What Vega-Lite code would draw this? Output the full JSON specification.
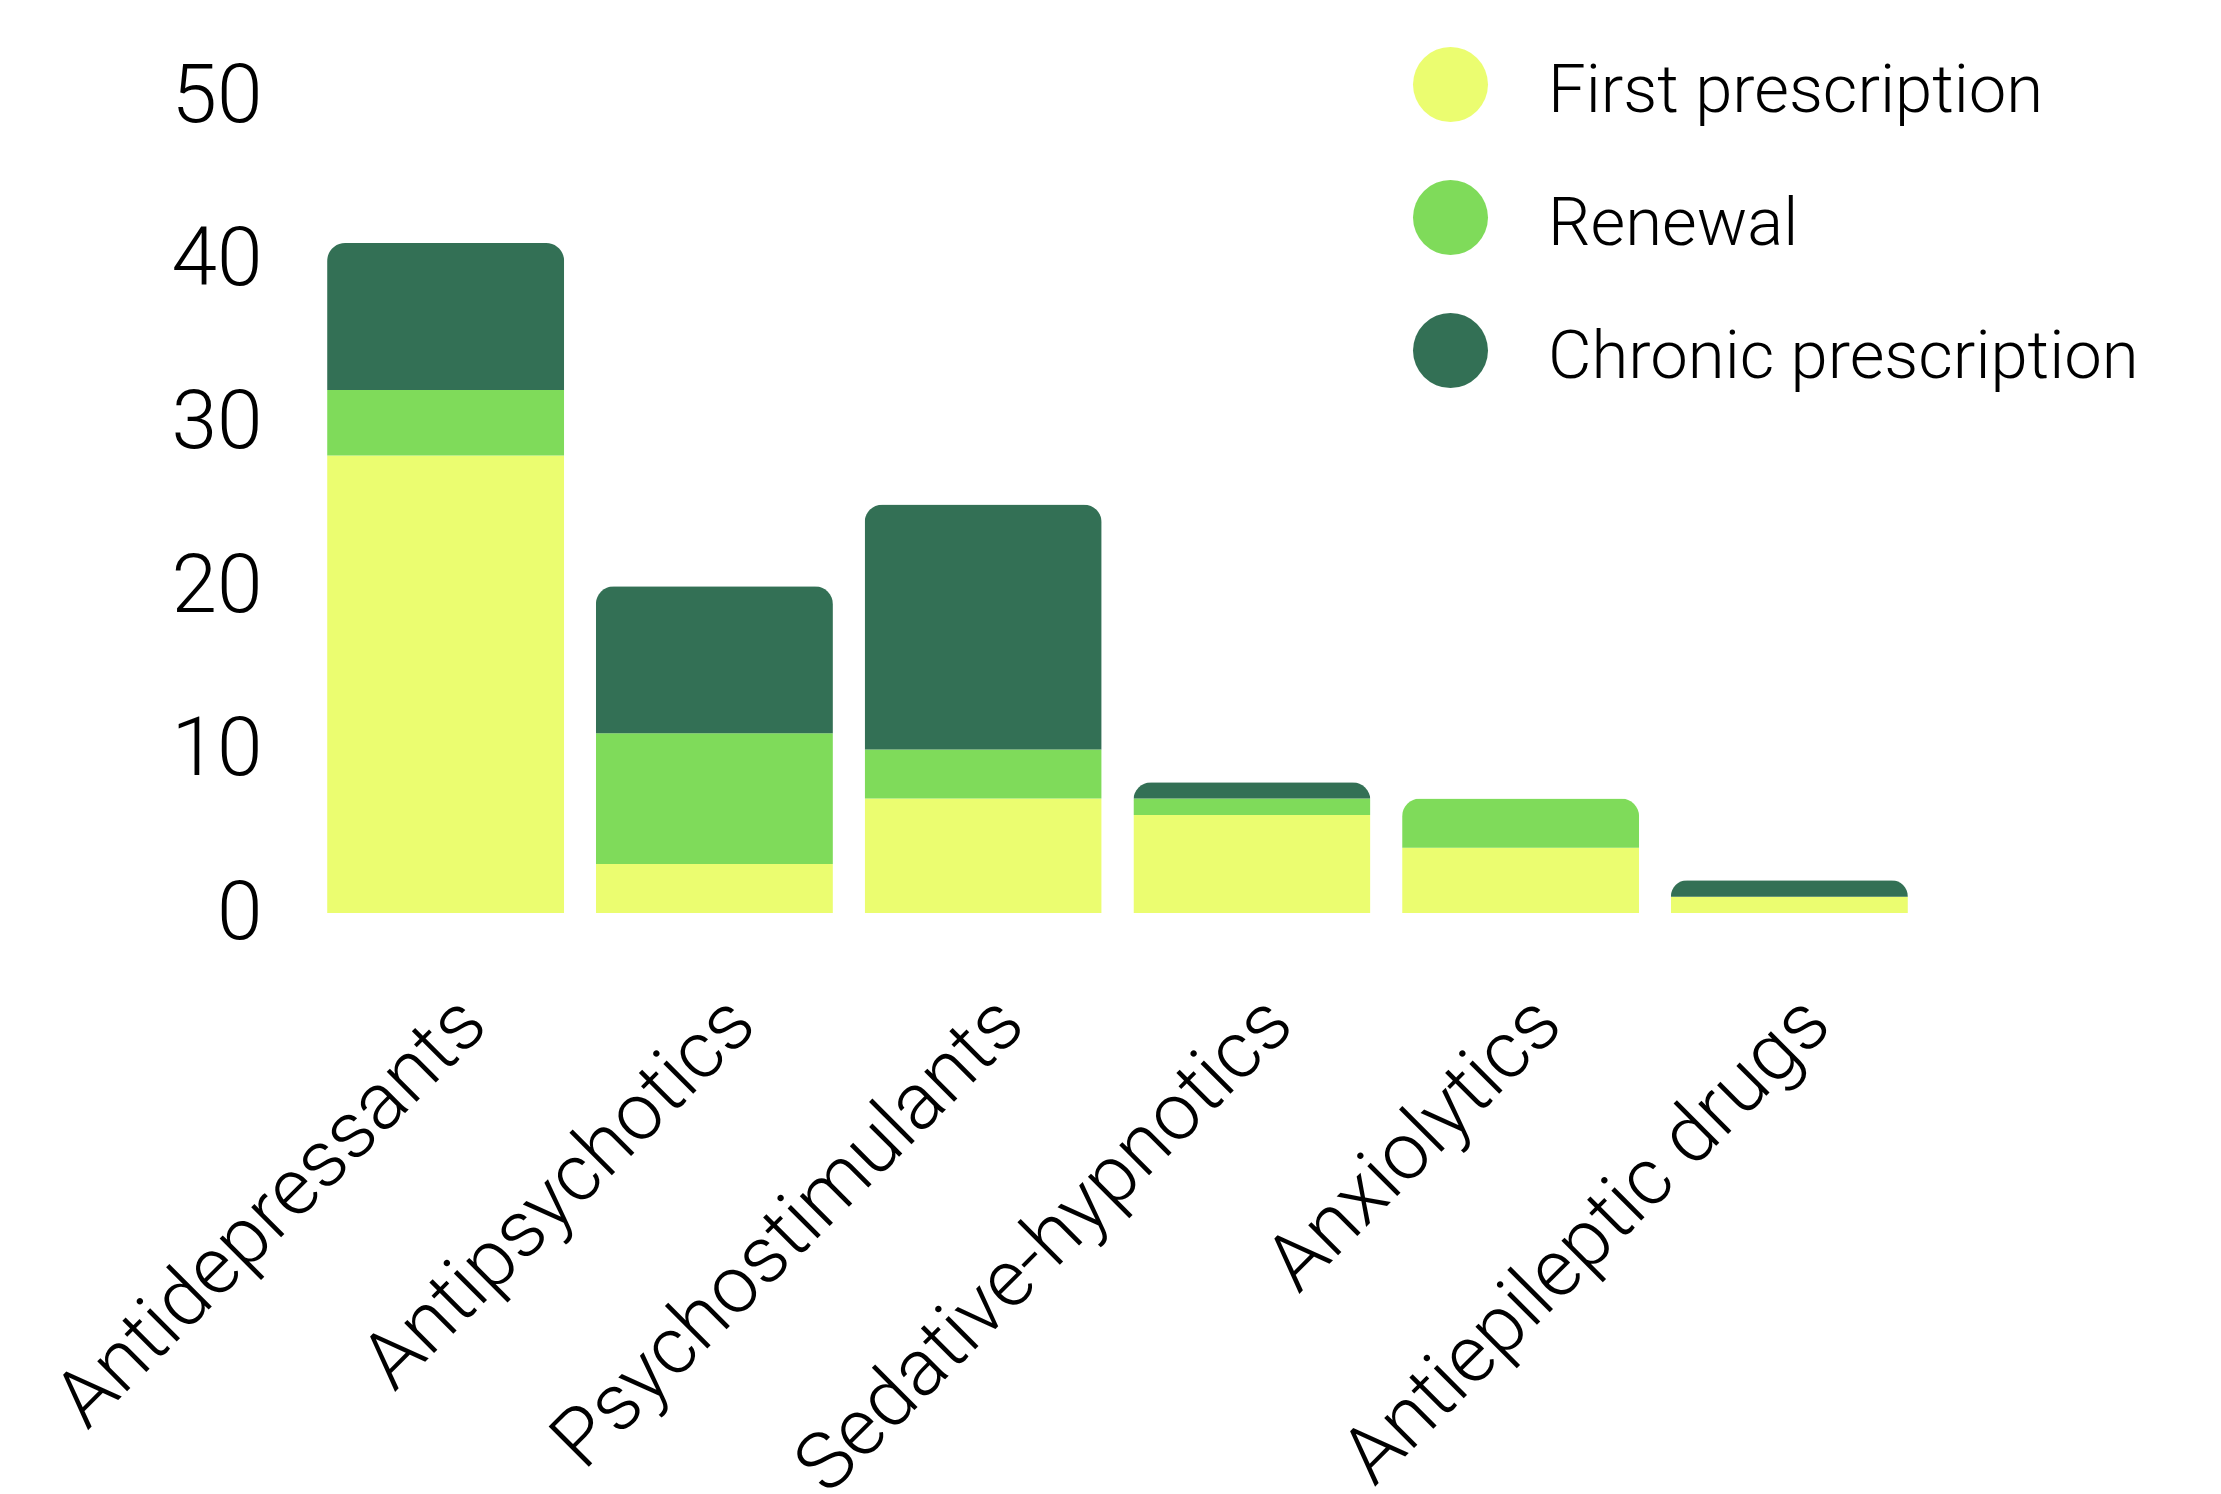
{
  "$schema": "https://vega.github.io/schema/vega-lite/v6.json",
  "width": 1613,
  "height": 817,
  "autosize": {"type": "none"},
  "padding": {"left": 311, "top": 96, "right": 297, "bottom": 581},
  "background": "white",
  "config": {"view": {"stroke": null}},
  "data": {
    "values": [
      {"drug": "Antidepressants", "type": "First prescription", "stage": 1, "value": 28},
      {"drug": "Antidepressants", "type": "Renewal", "stage": 2, "value": 4},
      {"drug": "Antidepressants", "type": "Chronic prescription", "stage": 3, "value": 9},
      {"drug": "Antipsychotics", "type": "First prescription", "stage": 1, "value": 3},
      {"drug": "Antipsychotics", "type": "Renewal", "stage": 2, "value": 8},
      {"drug": "Antipsychotics", "type": "Chronic prescription", "stage": 3, "value": 9},
      {"drug": "Psychostimulants", "type": "First prescription", "stage": 1, "value": 7},
      {"drug": "Psychostimulants", "type": "Renewal", "stage": 2, "value": 3},
      {"drug": "Psychostimulants", "type": "Chronic prescription", "stage": 3, "value": 15},
      {"drug": "Sedative-hypnotics", "type": "First prescription", "stage": 1, "value": 6},
      {"drug": "Sedative-hypnotics", "type": "Renewal", "stage": 2, "value": 1},
      {"drug": "Sedative-hypnotics", "type": "Chronic prescription", "stage": 3, "value": 1},
      {"drug": "Anxiolytics", "type": "First prescription", "stage": 1, "value": 4},
      {"drug": "Anxiolytics", "type": "Renewal", "stage": 2, "value": 3},
      {"drug": "Anxiolytics", "type": "Chronic prescription", "stage": 3, "value": 0},
      {"drug": "Antiepileptic drugs", "type": "First prescription", "stage": 1, "value": 1},
      {"drug": "Antiepileptic drugs", "type": "Renewal", "stage": 2, "value": 0},
      {"drug": "Antiepileptic drugs", "type": "Chronic prescription", "stage": 3, "value": 1}
    ]
  },
  "mark": {"type": "bar", "cornerRadiusTopLeft": 18, "cornerRadiusTopRight": 18},
  "encoding": {
    "x": {
      "field": "drug",
      "type": "nominal",
      "sort": ["Antidepressants", "Antipsychotics", "Psychostimulants", "Sedative-hypnotics", "Anxiolytics", "Antiepileptic drugs"],
      "scale": {"paddingInner": 0.118, "paddingOuter": 0.06},
      "axis": {
        "title": null,
        "labelAngle": -45,
        "labelFont": "Roboto",
        "labelFontWeight": 300,
        "labelFontSize": 80,
        "labelColor": "black",
        "ticks": false,
        "domain": false,
        "labelPadding": 70,
        "labelDx": 42,
        "labelLimit": 1000
      }
    },
    "y": {
      "field": "value",
      "type": "quantitative",
      "stack": "zero",
      "scale": {"domain": [0, 50]},
      "axis": {
        "title": null,
        "values": [0, 10, 20, 30, 40, 50],
        "grid": false,
        "domain": false,
        "ticks": false,
        "labelFont": "Roboto",
        "labelFontWeight": 300,
        "labelFontSize": 82,
        "labelColor": "black",
        "labelPadding": 49
      }
    },
    "order": {"field": "stage", "type": "quantitative", "sort": "ascending"},
    "color": {
      "field": "type",
      "type": "nominal",
      "sort": ["First prescription", "Renewal", "Chronic prescription"],
      "scale": {
        "domain": ["First prescription", "Renewal", "Chronic prescription"],
        "range": ["#ebfd70", "#7fdb5a", "#337055"]
      },
      "legend": {
        "title": null,
        "orient": "none",
        "legendX": 1102,
        "legendY": -49,
        "symbolType": "circle",
        "symbolSize": 5625,
        "symbolStrokeWidth": 0,
        "symbolOpacity": 1,
        "labelFont": "Roboto",
        "labelFontWeight": 300,
        "labelFontSize": 67,
        "labelColor": "black",
        "labelOffset": 60,
        "rowPadding": 55,
        "labelLimit": 1000,
        "encode": {"labels": {"update": {"dy": {"value": 7}}}}
      }
    }
  }
}
